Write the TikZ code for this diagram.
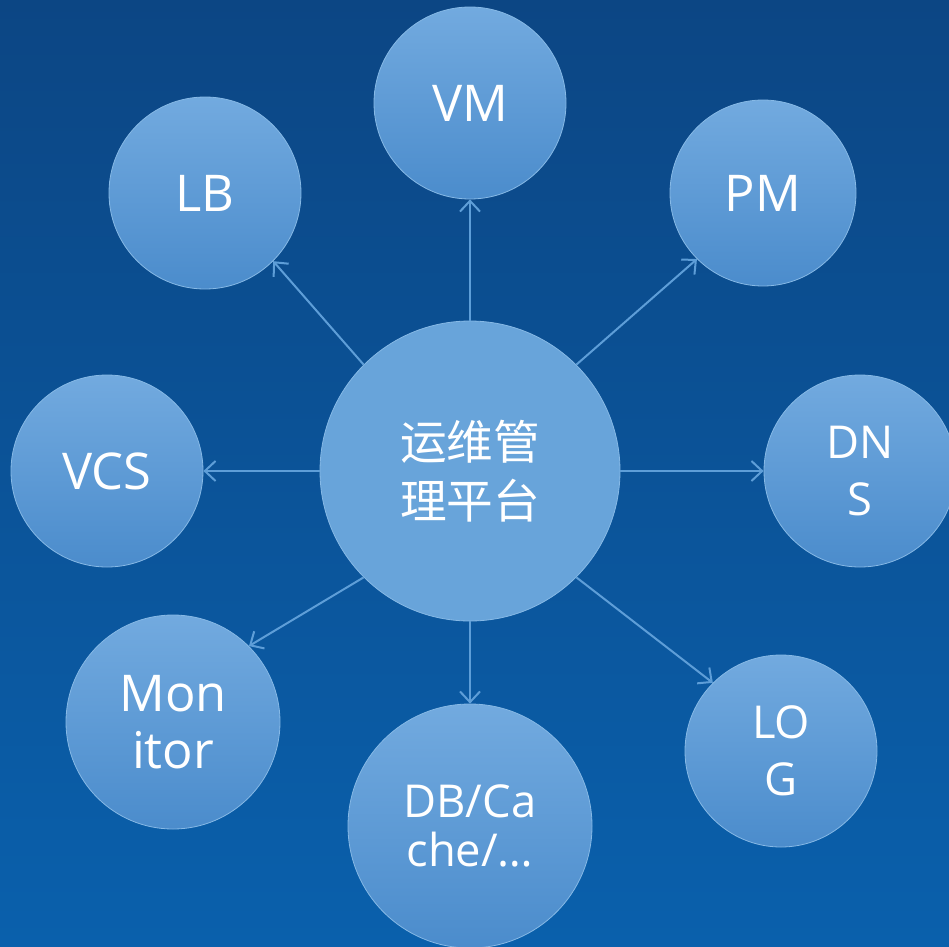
\documentclass[tikz,border=0pt]{standalone}
\usepackage{fontspec}
\setmainfont{Open Sans}
\newfontfamily\cjk{Noto Sans CJK SC}
\usepackage{tikz}
\usetikzlibrary{arrows.meta}
\definecolor{bgtop}{HTML}{0C4684}
\definecolor{bgbot}{HTML}{0A60AC}
\definecolor{balltop}{HTML}{72AADF}
\definecolor{ballbot}{HTML}{4B8CCC}
\definecolor{hubfill}{HTML}{68A4DA}
\definecolor{linkcol}{HTML}{5E9ED8}
\definecolor{rimcol}{HTML}{86B9E6}
\tikzstyle{hub} = [circle, draw=rimcol, fill=hubfill, line width=0.6pt,
    minimum size=225pt, inner sep=0pt, text=white, align=center,
    font=\cjk\fontsize{35}{44}\selectfont]
\tikzstyle{ball} = [circle, draw=rimcol, top color=balltop, bottom color=ballbot,
    line width=0.6pt, minimum size=144pt, inner sep=0pt, text=white,
    align=center, font=\fontsize{38}{43}\selectfont]
\tikzstyle{small} = [font=\fontsize{34}{43}\selectfont]
\tikzstyle{link} = [draw=linkcol, line width=1.5pt,
    -{Straight Barb[length=8pt,width=15pt,line width=1.5pt]}]

\begin{document}
\begin{tikzpicture}[x=0.75pt, y=-0.75pt]
    % background
    \fill [top color=bgtop, bottom color=bgbot] (0,0) rectangle (949,946);
    \useasboundingbox (0,0) rectangle (949,946);

    % platform in the middle
    \node [hub] (hub) at (470,471) {运维管\\理平台};

    % services around it
    \node [ball] (vm) at (470,103) {VM};
    \node [ball] (lb) at (205,193) {LB};
    \node [ball, minimum size=139.5pt] (pm) at (763,193) {PM};
    \node [ball] (vcs) at (107,471) {VCS};
    \node [ball, small] (dns) at (860,471) {DN\\S};
    \node [ball, minimum size=160.5pt] (mon) at (173,722) {Mon\\itor};
    \node [ball, minimum size=183pt, font=\fontsize{34}{37}\selectfont]
        (db) at (470,826) {DB/Ca\\che/…};
    \node [ball, small] (log) at (781,751) {LO\\G};

    % links
    \draw [link] (hub) -- (vm);
    \draw [link] (hub.135) -- (lb.-45);
    \draw [link] (hub.45) -- (pm.225);
    \draw [link] (hub) -- (vcs);
    \draw [link] (hub) -- (dns);
    \draw [link] (hub.225) -- (mon.45);
    \draw [link] (hub) -- (db);
    \draw [link] (hub.-45) -- (log.135);
\end{tikzpicture}
\end{document}
